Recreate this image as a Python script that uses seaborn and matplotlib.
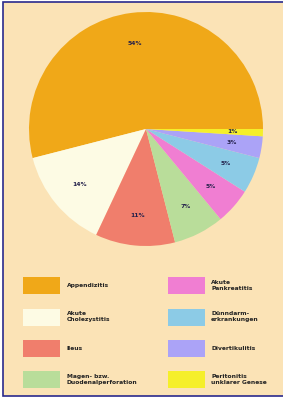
import matplotlib
matplotlib.use("Agg")
import matplotlib.pyplot as plt
import seaborn as sns
from matplotlib.patches import Rectangle, Patch

sns.set_theme(style="white")
plt.rcParams['font.family'] = ['DejaVu Sans']

categories = ["Appendizitis", "Akute\nCholezystitis", "Ileus",
              "Magen- bzw.\nDuodenalperforation", "Akute\nPankreatitis",
              "Dünndarm-\nerkrankungen", "Divertikulitis",
              "Peritonitis\nunklarer Genese"]
values = [54, 14, 11, 7, 5, 5, 3, 1]
pct_labels = ["54%", "14%", "11%", "7%", "5%", "5%", "3%", "1%"]
colors = sns.color_palette(["#F0A818", "#FDFBE4", "#F07E6C", "#B9DD9A",
                            "#F07ED2", "#8CCBE6", "#ABA3F7", "#F5EF2A"])

bg = "#FBE3B6"
fig = plt.figure(figsize=(2.83, 3.99), dpi=100)
fig.patch.set_facecolor("white")

# background panel with blue frame
frame = Rectangle((2.5/283, 3/399), 1.0, 1 - 5/399, transform=fig.transFigure,
                  facecolor=bg, edgecolor="#2A2A8C", linewidth=1.2, zorder=-5)
fig.patches.append(frame)

ax = fig.add_axes([28/283, 1 - 246/399, 236/283, 234/399])
ax.set_zorder(2)
ax.set_facecolor("none")
ax.patch.set_alpha(0)
wedges, texts = ax.pie(values, colors=colors, startangle=0, counterclock=True,
                       labels=pct_labels, labeldistance=0.74,
                       wedgeprops=dict(linewidth=0))
for t in texts:
    t.set_ha("center"); t.set_va("center")
    t.set_fontsize(4.3); t.set_fontweight("bold"); t.set_color("#23204A")
ax.set_aspect("equal")
ax.set_xlim(-1.0, 1.0)
ax.set_ylim(-1.0, 1.0)
ax.axis("off")

handles = [Patch(facecolor=c, edgecolor="none") for c in colors]
leg = fig.legend(handles, categories, ncol=2, loc="upper left",
                 bbox_to_anchor=(18/283, 1 - 272/399),
                 frameon=False, handlelength=6.2, handleheight=4.0,
                 handletextpad=1.1, columnspacing=5.0, labelspacing=2.4,
                 prop=dict(size=4.3, weight="bold"))
leg.set_zorder(3)
for t in leg.get_texts():
    t.set_color("#222222")

fig.savefig("out.png", dpi=100, facecolor=fig.get_facecolor())
